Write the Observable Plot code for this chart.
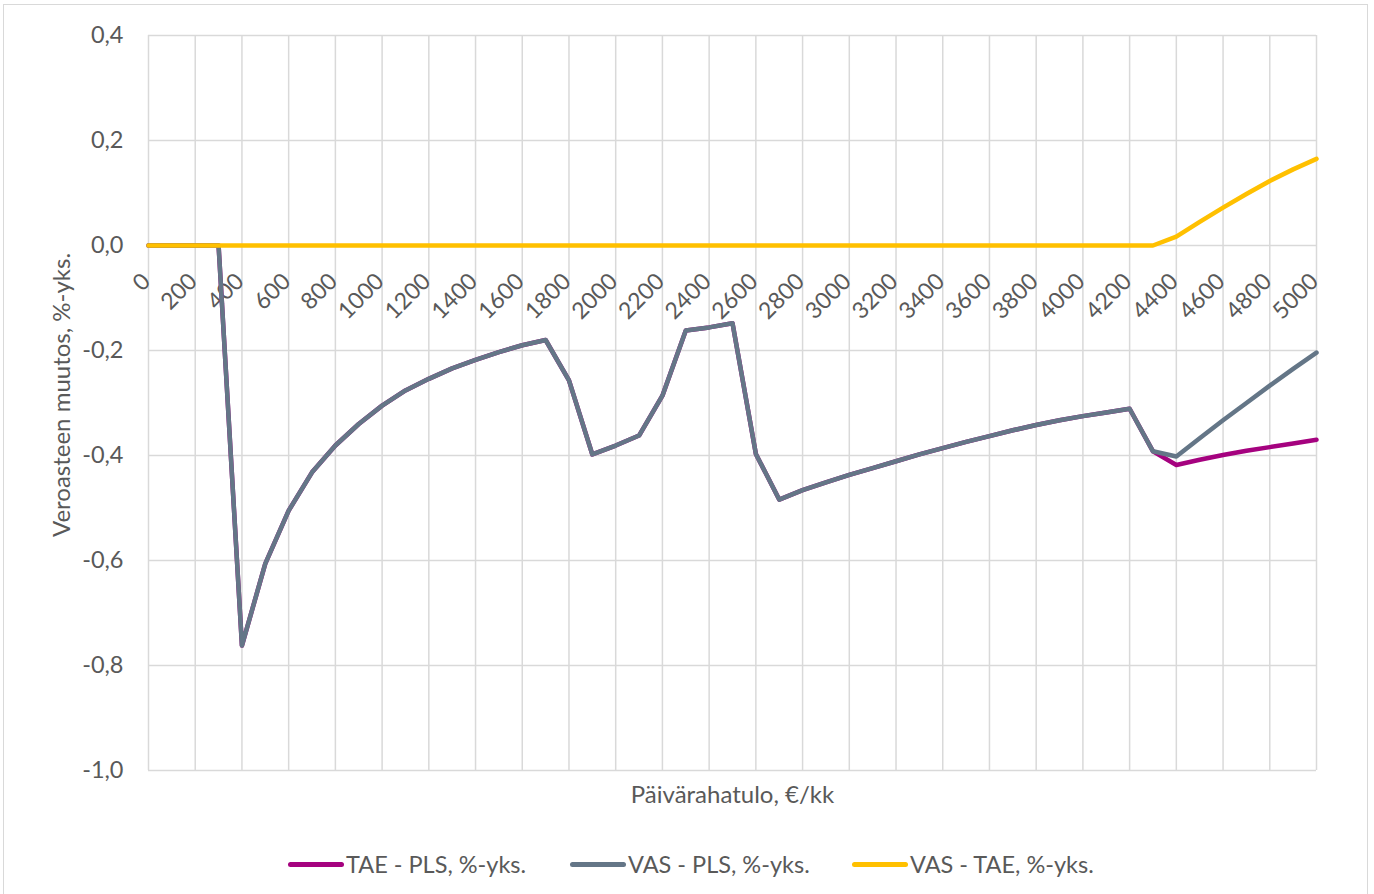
<!DOCTYPE html>
<html>
<head>
<meta charset="utf-8">
<script src="https://cdn.jsdelivr.net/npm/d3@7"></script>
<script src="https://cdn.jsdelivr.net/npm/@observablehq/plot@0.6"></script>
<style>
  html, body { margin: 0; padding: 0; background: #fff; }
  #wrap { position: relative; width: 1374px; height: 894px; overflow: hidden; font-family: Lato, "Liberation Sans", sans-serif; }
  #border { position: absolute; left: 3px; top: 4px; width: 1365px; height: 900px; border: 1.5px solid #d9d9d9; box-sizing: border-box; }
  #chart { position: absolute; left: 0; top: 0; }
  #legend { position: absolute; left: 0; top: 849px; width: 1374px; height: 30px; }
  .item { position: absolute; top: 0; display: flex; align-items: center; height: 30px; font-size: 23.5px; color: #595959; white-space: nowrap; }
  .sw { display: inline-block; width: 56px; height: 5px; border-radius: 3px; margin-right: 2px; }
</style>
</head>
<body>
<div id="wrap">
  <div id="border"></div>
  <div id="chart"></div>
  <div id="legend"></div>
</div>
<script>
// Income (x categories), €/kk
const income = [0,100,200,300,400,500,600,700,800,900,1000,1100,1200,1300,1400,1500,1600,1700,1800,1900,2000,2100,2200,2300,2400,2500,2600,2700,2800,2900,3000,3100,3200,3300,3400,3500,3600,3700,3800,3900,4000,4100,4200,4300,4400,4500,4600,4700,4800,4900,5000];

// Series values, %-yks.
const taePls = [0,0,0,0,-0.762,-0.606,-0.505,-0.432,-0.381,-0.340,-0.305,-0.276,-0.254,-0.234,-0.218,-0.203,-0.190,-0.180,-0.257,-0.398,-0.381,-0.362,-0.286,-0.162,-0.156,-0.148,-0.397,-0.484,-0.466,-0.451,-0.437,-0.424,-0.411,-0.398,-0.386,-0.374,-0.363,-0.352,-0.342,-0.333,-0.325,-0.318,-0.311,-0.392,-0.418,-0.408,-0.399,-0.391,-0.384,-0.377,-0.370];
const vasPls = [0,0,0,0,-0.762,-0.606,-0.505,-0.432,-0.381,-0.340,-0.305,-0.276,-0.254,-0.234,-0.218,-0.203,-0.190,-0.180,-0.257,-0.398,-0.381,-0.362,-0.286,-0.162,-0.156,-0.148,-0.397,-0.484,-0.466,-0.451,-0.437,-0.424,-0.411,-0.398,-0.386,-0.374,-0.363,-0.352,-0.342,-0.333,-0.325,-0.318,-0.311,-0.392,-0.402,-0.367,-0.333,-0.300,-0.267,-0.235,-0.204];
const vasTae = [0,0,0,0,0,0,0,0,0,0,0,0,0,0,0,0,0,0,0,0,0,0,0,0,0,0,0,0,0,0,0,0,0,0,0,0,0,0,0,0,0,0,0,0,0.017,0.045,0.072,0.098,0.123,0.145,0.165];

// Series names and colours
const seriesNames = ["TAE - PLS, %-yks.", "VAS - PLS, %-yks.", "VAS - TAE, %-yks."];
const seriesColors = ["#A5027F", "#647687", "#FFC000"];

// Tick labels
const xTicks = [0,200,400,600,800,1000,1200,1400,1600,1800,2000,2200,2400,2600,2800,3000,3200,3400,3600,3800,4000,4200,4400,4600,4800,5000];
const yTicks = [-1.0,-0.8,-0.6,-0.4,-0.2,0.0,0.2,0.4];
const xTitle = "Päivärahatulo, €/kk";
const yTitle = "Veroasteen muutos, %-yks.";

const seriesValues = [taePls, vasPls, vasTae];
const rows = [];
seriesValues.forEach((vals, s) => vals.forEach((v, i) => rows.push({x: income[i], y: v, s: seriesNames[s]})));

const fmt = d => d.toFixed(1).replace(".", ",");
const textColor = "#595959";

const plot = Plot.plot({
  width: 1374,
  height: 830,
  marginLeft: 148,
  marginRight: 58,
  marginTop: 35,
  marginBottom: 60,
  style: {fontFamily: "Lato, 'Liberation Sans', sans-serif", fontSize: "24px", color: textColor, background: "transparent"},
  x: {domain: [0, 5000], axis: null},
  y: {domain: [-1, 0.4], axis: null},
  color: {domain: seriesNames, range: seriesColors},
  marks: [
    Plot.ruleX(xTicks, {stroke: "#d9d9d9", strokeWidth: 1.5}),
    Plot.ruleY(yTicks, {stroke: "#d9d9d9", strokeWidth: 1.5}),
    Plot.axisY(yTicks, {tickSize: 0, tickPadding: 25, tickFormat: fmt, fontSize: 23.5, fill: textColor, label: null}),
    Plot.text(xTicks, {x: d => d, y: () => 0, text: d => String(d), rotate: -45, textAnchor: "end", dx: -2, dy: 32, fontSize: 23, fill: textColor}),
    Plot.text([yTitle], {frameAnchor: "left", textAnchor: "middle", lineAnchor: "middle", dx: -86, dy: -8, rotate: -90, fontSize: 24, fill: textColor}),
    Plot.text([xTitle], {frameAnchor: "bottom", textAnchor: "middle", lineAnchor: "middle", dy: 25, fontSize: 24, fill: textColor}),
    Plot.line(rows, {x: "x", y: "y", z: "s", stroke: "s", strokeWidth: 4.5, strokeLinejoin: "round", strokeLinecap: "round"})
  ]
});
document.getElementById("chart").appendChild(plot);

// Legend
const legend = document.getElementById("legend");
const legendX = [288, 570, 852];
seriesNames.forEach((name, i) => {
  const item = document.createElement("div");
  item.className = "item";
  item.style.left = legendX[i] + "px";
  const sw = document.createElement("span");
  sw.className = "sw";
  sw.style.background = seriesColors[i];
  item.appendChild(sw);
  item.appendChild(document.createTextNode(name));
  legend.appendChild(item);
});
</script>
</body>
</html>
